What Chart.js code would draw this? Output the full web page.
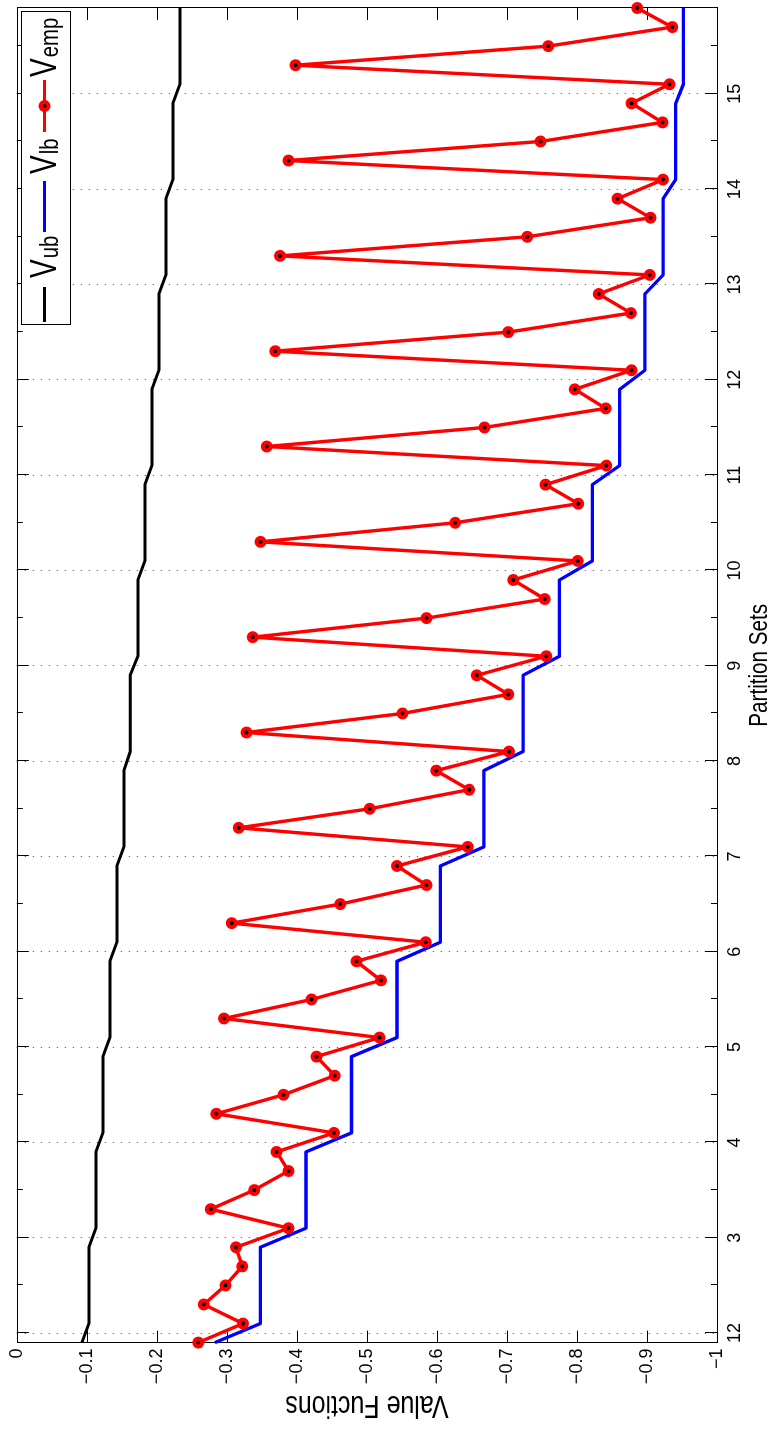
<!DOCTYPE html>
<html>
<head>
<meta charset="utf-8">
<script src="https://cdn.jsdelivr.net/npm/chart.js@4.4.1/dist/chart.umd.min.js"></script>
<style>
  html, body { margin: 0; padding: 0; background: #fff; overflow: hidden; }
  body { width: 773px; height: 1429px; position: relative; }
  /* the figure is drawn landscape and turned a quarter turn, like the source */
  #wrap { position: absolute; left: 0; top: 0; width: 1429px; height: 773px;
          transform-origin: 0 0; transform: translate(0, 1429px) rotate(-90deg); }
</style>
</head>
<body>
<div id="wrap"><canvas id="myCanvas" width="1429" height="773"></canvas></div>
<script>
const partitions = [
  1.9,
  2.1, 2.3, 2.5, 2.7, 2.9,
  3.1, 3.3, 3.5, 3.7, 3.9,
  4.1, 4.3, 4.5, 4.7, 4.9,
  5.1, 5.3, 5.5, 5.7, 5.9,
  6.1, 6.3, 6.5, 6.7, 6.9,
  7.1, 7.3, 7.5, 7.7, 7.9,
  8.1, 8.3, 8.5, 8.7, 8.9,
  9.1, 9.3, 9.5, 9.7, 9.9,
  10.1, 10.3, 10.5, 10.7, 10.9,
  11.1, 11.3, 11.5, 11.7, 11.9,
  12.1, 12.3, 12.5, 12.7, 12.9,
  13.1, 13.3, 13.5, 13.7, 13.9,
  14.1, 14.3, 14.5, 14.7, 14.9,
  15.1, 15.3, 15.5, 15.7, 15.9
]

const vUpper = [
  -0.093,
  -0.103, -0.103, -0.103, -0.103, -0.103,
  -0.113, -0.113, -0.113, -0.113, -0.113,
  -0.123, -0.123, -0.123, -0.123, -0.123,
  -0.133, -0.133, -0.133, -0.133, -0.133,
  -0.143, -0.143, -0.143, -0.143, -0.143,
  -0.153, -0.153, -0.153, -0.153, -0.153,
  -0.162, -0.162, -0.162, -0.162, -0.162,
  -0.173, -0.173, -0.173, -0.173, -0.173,
  -0.183, -0.183, -0.183, -0.183, -0.183,
  -0.193, -0.193, -0.193, -0.193, -0.193,
  -0.203, -0.203, -0.203, -0.203, -0.203,
  -0.213, -0.213, -0.213, -0.213, -0.213,
  -0.223, -0.223, -0.223, -0.223, -0.223,
  -0.233, -0.233, -0.233, -0.233, -0.233
]

const vLower = [
  -0.283,
  -0.348, -0.348, -0.348, -0.348, -0.348,
  -0.413, -0.413, -0.413, -0.413, -0.413,
  -0.478, -0.478, -0.478, -0.478, -0.478,
  -0.543, -0.543, -0.543, -0.543, -0.543,
  -0.605, -0.605, -0.605, -0.605, -0.605,
  -0.667, -0.667, -0.667, -0.667, -0.667,
  -0.723, -0.723, -0.723, -0.723, -0.723,
  -0.775, -0.775, -0.775, -0.775, -0.775,
  -0.822, -0.822, -0.822, -0.822, -0.822,
  -0.861, -0.861, -0.861, -0.861, -0.861,
  -0.897, -0.897, -0.897, -0.897, -0.897,
  -0.923, -0.923, -0.923, -0.923, -0.923,
  -0.941, -0.941, -0.941, -0.941, -0.941,
  -0.952, -0.952, -0.952, -0.952, -0.952
]

const vEmp = [
  -0.259,
  -0.323, -0.267, -0.298, -0.322, -0.313,
  -0.388, -0.277, -0.339, -0.388, -0.371,
  -0.453, -0.285, -0.381, -0.454, -0.428,
  -0.518, -0.296, -0.421, -0.520, -0.485,
  -0.584, -0.307, -0.462, -0.585, -0.543,
  -0.644, -0.317, -0.504, -0.646, -0.599,
  -0.703, -0.328, -0.551, -0.702, -0.657,
  -0.756, -0.337, -0.585, -0.754, -0.709,
  -0.801, -0.348, -0.626, -0.802, -0.755,
  -0.842, -0.357, -0.668, -0.841, -0.797,
  -0.878, -0.369, -0.702, -0.877, -0.831,
  -0.904, -0.376, -0.729, -0.905, -0.858,
  -0.923, -0.388, -0.748, -0.922, -0.878,
  -0.932, -0.398, -0.759, -0.936, -0.886
]

const partitionTicks = [2, 3, 4, 5, 6, 7, 8, 9, 10, 11, 12, 13, 14, 15]
const partitionLabels = ["12", "3", "4", "5", "6", "7", "8", "9", "10", "11", "12", "13", "14", "15"]
const partitionMinor = [2.5, 3.5, 4.5, 5.5, 6.5, 7.5, 8.5, 9.5, 10.5, 11.5, 12.5, 13.5, 14.5, 15.5]
const valueTicks = [0, -0.1, -0.2, -0.3, -0.4, -0.5, -0.6, -0.7, -0.8, -0.9, -1]
const valueLabels = ["0", "\u22120.1", "\u22120.2", "\u22120.3", "\u22120.4", "\u22120.5", "\u22120.6", "\u22120.7", "\u22120.8", "\u22120.9", "\u22121"]

const sans = "'Liberation Sans', Arial, sans-serif"
// no narrow face installed, so titles/legend get squeezed by hand
const squeeze = 0.78

// inward tick marks and the closed box, as matlab draws them
const framePlugin = {
  id: "frame",
  beforeDatasetsDraw(chart) {
    const { ctx, chartArea: a, scales } = chart
    const x = scales.x
    const y = scales.y
    ctx.save()
    ctx.strokeStyle = "#000"
    ctx.lineWidth = 1
    ctx.beginPath()
    partitionTicks.forEach(v => {
      const px = Math.round(x.getPixelForValue(v)) + 0.5
      ctx.moveTo(px, a.top); ctx.lineTo(px, a.top + 12)
      ctx.moveTo(px, a.bottom); ctx.lineTo(px, a.bottom - 12)
    })
    partitionMinor.forEach(v => {
      const px = Math.round(x.getPixelForValue(v)) + 0.5
      ctx.moveTo(px, a.top); ctx.lineTo(px, a.top + 6)
      ctx.moveTo(px, a.bottom); ctx.lineTo(px, a.bottom - 6)
    })
    valueTicks.forEach(v => {
      const py = Math.round(y.getPixelForValue(v)) + 0.5
      ctx.moveTo(a.left, py); ctx.lineTo(a.left + 12, py)
      ctx.moveTo(a.right, py); ctx.lineTo(a.right - 12, py)
    })
    ctx.stroke()
    ctx.strokeRect(Math.round(a.left) + 0.5, Math.round(a.top) + 0.5,
      Math.round(a.right - a.left), Math.round(a.bottom - a.top))
    ctx.restore()
  }
}

function squeezedText(ctx, text, x, y, size, align) {
  ctx.save()
  ctx.translate(x, y)
  ctx.scale(squeeze, 1)
  ctx.font = size + "px " + sans
  ctx.textAlign = align
  ctx.textBaseline = "alphabetic"
  ctx.fillText(text, 0, 0)
  const w = ctx.measureText(text).width * squeeze
  ctx.restore()
  return w
}

// axis titles drawn here so they can be squeezed like the original font
const titlePlugin = {
  id: "axisTitles",
  afterDraw(chart) {
    const { ctx, chartArea: a, scales } = chart
    ctx.save()
    ctx.fillStyle = "#000"
    squeezedText(ctx, scales.x.options.title.text, (a.left + a.right) / 2 + 10, 767, 26.5, "center")
    ctx.translate(33, (a.top + a.bottom) / 2)
    ctx.rotate(-Math.PI / 2)
    squeezedText(ctx, scales.y.options.title.text, 0, 0, 32, "center")
    ctx.restore()
  }
}

// legend with subscripts (V_ub etc), chart.js legend can't do those
const legendSlots = [
  { from: 1107, to: 1142, text: 1151 },
  { from: 1197, to: 1248, text: 1255 },
  { from: 1297, to: 1349, text: 1352 }
]

const legendPlugin = {
  id: "subLegend",
  afterDraw(chart) {
    const ctx = chart.ctx
    ctx.save()
    ctx.fillStyle = "#fff"
    ctx.fillRect(1104, 21, 313, 49)
    ctx.strokeStyle = "#000"
    ctx.lineWidth = 1
    ctx.strokeRect(1104.5, 21.5, 313, 49)

    chart.data.datasets.forEach((ds, i) => {
      const slot = legendSlots[i]
      const ly = 44.5
      ctx.strokeStyle = ds.borderColor
      ctx.lineWidth = 3
      ctx.beginPath()
      ctx.moveTo(slot.from, ly)
      ctx.lineTo(slot.to, ly)
      ctx.stroke()
      if (ds.pointRadius > 0) {
        const mx = (slot.from + slot.to) / 2
        ctx.beginPath()
        ctx.arc(mx, ly, ds.pointRadius, 0, Math.PI * 2)
        ctx.fillStyle = ds.pointBackgroundColor
        ctx.fill()
        ctx.lineWidth = ds.pointBorderWidth
        ctx.strokeStyle = ds.pointBorderColor
        ctx.stroke()
      }
      const [main, sub] = ds.label.split("_")
      ctx.fillStyle = "#000"
      const w = squeezedText(ctx, main, slot.text, 56, 36, "left")
      squeezedText(ctx, sub, slot.text + w + 1, 58, 26, "left")
    })
    ctx.restore()
  }
}

const ctx = document.getElementById("myCanvas").getContext("2d")

new Chart(ctx, {
  type: "line",
  data: {
    datasets: [
      {
        label: "V_ub",
        data: partitions.map((p, i) => ({ x: p, y: vUpper[i] })),
        borderColor: "#000000",
        borderWidth: 3,
        borderJoinStyle: "round",
        pointRadius: 0,
        order: 2,
        clip: false,
      },
      {
        label: "V_lb",
        data: partitions.map((p, i) => ({ x: p, y: vLower[i] })),
        borderColor: "#0000ff",
        borderWidth: 3.3,
        borderJoinStyle: "round",
        pointRadius: 0,
        order: 1,
        clip: false,
      },
      {
        label: "V_emp",
        data: partitions.map((p, i) => ({ x: p, y: vEmp[i] })),
        borderColor: "#ff0000",
        borderWidth: 3.4,
        borderJoinStyle: "round",
        pointRadius: 4,
        pointBorderWidth: 4,
        pointBackgroundColor: "#000000",
        pointBorderColor: "#ff0000",
        order: 0,
        clip: false,
      },
    ],
  },
  options: {
    responsive: false,
    devicePixelRatio: 1,
    animation: false,
    layout: { padding: { top: 12, right: 3, left: 0, bottom: 0 } },
    plugins: {
      legend: { display: false },
      tooltip: { enabled: false },
    },
    scales: {
      x: {
        type: "linear",
        position: "bottom",
        min: 1.9,
        max: 15.9,
        afterBuildTicks: s => { s.ticks = partitionTicks.map(v => ({ value: v })) },
        afterFit: s => { s.height = 56 },
        ticks: {
          autoSkip: false,
          maxRotation: 0,
          padding: 7,
          color: "#000",
          font: { family: sans, size: 18 },
          callback: (v, i) => partitionLabels[i],
        },
        grid: {
          display: true,
          drawTicks: false,
          color: "rgba(0,0,0,0.75)",
          lineWidth: 1,
        },
        border: { display: false, dash: [1, 7] },
        title: { display: false, text: "Partition Sets" },
      },
      y: {
        type: "linear",
        position: "left",
        min: -1,
        max: 0,
        afterBuildTicks: s => { s.ticks = valueTicks.map(v => ({ value: v })) },
        afterFit: s => { s.width = 86.4 },
        ticks: {
          autoSkip: false,
          padding: 6,
          color: "#000",
          font: { family: sans, size: 18 },
          callback: (v, i) => valueLabels[i],
        },
        grid: { display: false, drawTicks: false },
        border: { display: false },
        title: { display: false, text: "Value Fuctions" },
      },
    },
  },
  plugins: [framePlugin, titlePlugin, legendPlugin],
})
</script>
</body>
</html>
